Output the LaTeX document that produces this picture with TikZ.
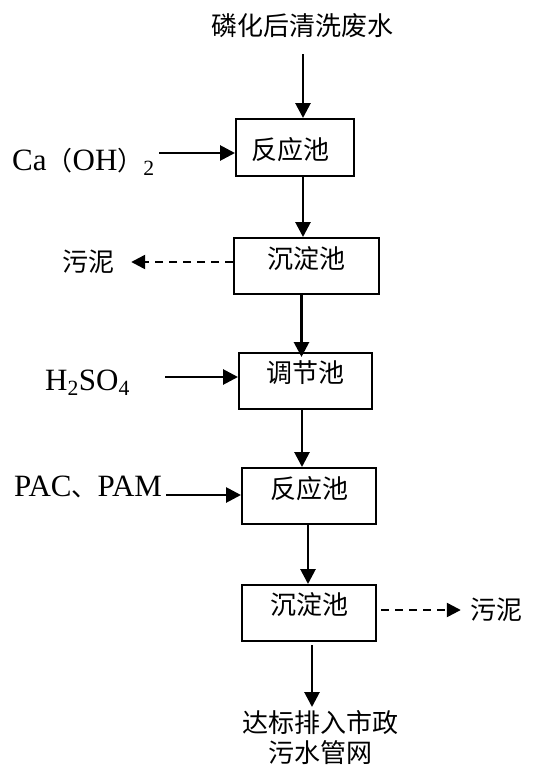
\documentclass[tikz,border=0pt]{standalone}
\usepackage{fontspec}
\setmainfont{Liberation Serif}
\newfontfamily\cjk{Noto Sans CJK SC}
\usetikzlibrary{arrows.meta,calc}
\newcommand{\cjkp}[1]{{\cjk\fontsize{26}{30}\selectfont #1}}
\begin{document}
\begin{tikzpicture}[x=1pt,y=-1pt,
  cn/.style={font=\cjk\fontsize{26}{30.5}\selectfont, inner sep=0pt},
  ln/.style={font=\fontsize{31}{36}\selectfont, inner sep=0pt, anchor=base west},
  box/.style={draw, line width=2pt, inner sep=0pt, font=\cjk\fontsize{26}{30.5}\selectfont},
  arr/.style={line width=2.8pt, -{Triangle[width=15pt,length=15pt]}},
  darr/.style={line width=2.4pt, dash pattern=on 8pt off 6pt, -{Triangle[width=14pt,length=14pt]}}]
\useasboundingbox (0,0) rectangle (555,774);

% title and output
\node[cn] (title) at (302.5,26) {磷化后清洗废水};
\node[cn, align=center, anchor=north] (out) at (320,710) {达标排入市政\\污水管网};

% boxes
\node[box, minimum width=118pt, minimum height=57pt, text height=26pt, text depth=1.2pt] (b1) at (295,147.5) {\kern-10pt 反应池};
\node[box, minimum width=145pt, minimum height=56pt, text height=20pt, text depth=15.2pt] (b2) at (306.5,266) {沉淀池};
\node[box, minimum width=133pt, minimum height=56pt, text height=20pt, text depth=17.2pt] (b3) at (305.5,381) {调节池};
\node[box, minimum width=134pt, minimum height=56pt, text height=20pt, text depth=15.2pt] (b4) at (309,496) {反应池};
\node[box, minimum width=134pt, minimum height=56pt, text height=20pt, text depth=17.2pt] (b5) at (309,613) {沉淀池};

% side labels
\node[ln] (ca) at (12,170) {Ca\cjkp{（}OH\cjkp{）}\textsubscript{2}};
\node[ln] (hs) at (45,390) {H\textsubscript{2}SO\textsubscript{4}};
\node[ln] (pac) at (14,496) {PAC\cjkp{、}PAM};
\node[cn] (sl1) at (88,262) {污泥};
\node[cn] (sl2) at (496,610) {污泥};

% main flow
\draw[arr] ([xshift=0.5pt,yshift=-16pt]title.south) -- ([xshift=8pt]b1.north);
\draw[arr] ([xshift=8pt]b1.south) -- ([xshift=-3.5pt]b2.north);
\draw[arr] ([xshift=-5pt]b2.south) -- ([xshift=-4pt,yshift=-5pt]b3.north);
\draw[arr] ([xshift=-3.5pt]b3.south) -- ([xshift=-7pt]b4.north);
\draw[arr] ([xshift=-1pt]b4.south) -- ([xshift=-1pt]b5.north);
\draw[arr] ([xshift=3pt,yshift=-3pt]b5.south) -- ([xshift=-8pt,yshift=3pt]out.north);

% reagent inputs
\coordinate (c1) at ([yshift=-5.5pt]b1.west);
\coordinate (c3) at ([yshift=4pt]b3.west);
\coordinate (c4) at ([yshift=1pt]b4.west);
\draw[arr] (c1) ++(-76pt,0) -- (c1);
\draw[arr] (c3) ++(-73pt,0) -- (c3);
\draw[arr] (c4) ++(-75pt,0) -- (c4);

% sludge outputs
\coordinate (d1) at ([yshift=4pt]b2.west);
\coordinate (d2) at ([xshift=4pt,yshift=3pt]b5.east);
\draw[darr] (d1) -- ($(d1 -| sl1.east)+(17pt,0)$);
\draw[darr] (d2) -- ($(d2 -| sl2.west)+(-9pt,0)$);
\end{tikzpicture}
\end{document}
